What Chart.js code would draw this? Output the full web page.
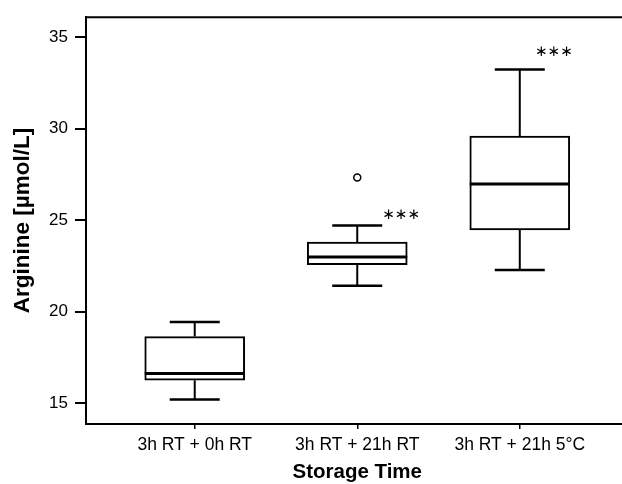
<!DOCTYPE html>
<html>
<head>
<meta charset="utf-8">
<script src="https://cdn.jsdelivr.net/npm/chart.js@4"></script>
<style>
  html, body { margin: 0; padding: 0; background: #fff; overflow: hidden; }
  #wrap { width: 634px; height: 484px; }
</style>
</head>
<body>
<div id="wrap"><canvas id="chartCanvas"></canvas></div>
<script>
const categories = ['3h RT + 0h RT', '3h RT + 21h RT', '3h RT + 21h 5°C'];
const whiskerLow = [15.2, 21.42, 22.28];
const q1 = [16.25, 22.57, 24.47];
const median = [16.62, 22.99, 26.98];
const q3 = [18.64, 23.81, 29.6];
const whiskerHigh = [19.44, 24.71, 33.24];
const outliers = [[], [27.33], []];
const starText = ['', '***', '***'];
const starX = [null, 1.27, 2.21];
const starY = [null, 25.3, 34.2];
const yTicks = [15, 20, 25, 30, 35];

// whiskers, caps, medians, stars and the top frame line
const boxPlugin = {
  id: 'boxExtras',
  afterDatasetsDraw(chart) {
    const ctx = chart.ctx;
    const xs = chart.scales.x;
    const ys = chart.scales.y;
    const meta = chart.getDatasetMeta(0);
    const area = chart.chartArea;
    ctx.save();
    ctx.strokeStyle = '#000';

    categories.forEach((c, i) => {
      const x = xs.getPixelForValue(i);
      const w = meta.data[i].width;
      const cap = w / 4;

      ctx.lineWidth = 2;
      ctx.beginPath();
      ctx.moveTo(x, ys.getPixelForValue(q3[i]));
      ctx.lineTo(x, ys.getPixelForValue(whiskerHigh[i]));
      ctx.moveTo(x, ys.getPixelForValue(q1[i]));
      ctx.lineTo(x, ys.getPixelForValue(whiskerLow[i]));
      ctx.stroke();

      ctx.lineWidth = 2.5;
      ctx.beginPath();
      ctx.moveTo(x - cap, ys.getPixelForValue(whiskerHigh[i]));
      ctx.lineTo(x + cap, ys.getPixelForValue(whiskerHigh[i]));
      ctx.moveTo(x - cap, ys.getPixelForValue(whiskerLow[i]));
      ctx.lineTo(x + cap, ys.getPixelForValue(whiskerLow[i]));
      ctx.stroke();

      ctx.lineWidth = 3;
      ctx.beginPath();
      ctx.moveTo(x - w / 2, ys.getPixelForValue(median[i]));
      ctx.lineTo(x + w / 2, ys.getPixelForValue(median[i]));
      ctx.stroke();

      if (starText[i]) {
        ctx.fillStyle = '#000';
        ctx.font = '15px "DejaVu Sans"';
        ctx.textAlign = 'center';
        ctx.textBaseline = 'middle';
        ctx.fillText(starText[i].replace(/\*/g, '\u2217'), xs.getPixelForValue(starX[i]), ys.getPixelForValue(starY[i]));
      }
    });

    // top frame line
    ctx.lineWidth = 2;
    ctx.beginPath();
    ctx.moveTo(area.left, area.top);
    ctx.lineTo(area.right, area.top);
    ctx.stroke();
    ctx.restore();
  }
};

function initChart() {
  Chart.defaults.font.family = '"Liberation Sans", Arial, sans-serif';
  Chart.defaults.color = '#000';

  const ctx = document.getElementById('chartCanvas').getContext('2d');
  new Chart(ctx, {
    data: {
      datasets: [{
        type: 'bar',
        data: categories.map((c, i) => ({ x: i, y: [q1[i], q3[i]] })),
        backgroundColor: '#fff',
        borderColor: '#000',
        borderWidth: 2,
        borderSkipped: false,
        barThickness: 100
      }, {
        type: 'scatter',
        data: outliers.flatMap((vals, i) => vals.map(v => ({ x: i, y: v }))),
        pointRadius: 3.5,
        borderWidth: 1.5,
        borderColor: '#000',
        backgroundColor: '#fff'
      }]
    },
    options: {
      responsive: true,
      maintainAspectRatio: false,
      animation: false,
      layout: { padding: { top: 14, left: 0, right: 0, bottom: 0 } },
      plugins: {
        legend: { display: false },
        tooltip: { enabled: false }
      },
      scales: {
        x: {
          type: 'linear',
          offset: false,
          min: -0.669,
          max: 2.669,
          afterBuildTicks: scale => { scale.ticks = categories.map((c, i) => ({ value: i })); },
          afterFit: scale => { scale.height = 60; },
          ticks: {
            callback: value => categories[value],
            autoSkip: false,
            maxRotation: 0,
            padding: 6,
            font: { size: 17.5 }
          },
          grid: { offset: false, drawOnChartArea: false, tickLength: 5, lineWidth: 1.5, color: '#000' },
          border: { display: true, width: 2, color: '#000' },
          title: {
            display: true,
            text: 'Storage Time',
            font: { size: 20.5, weight: 'bold', lineHeight: 1 },
            padding: { top: 0, bottom: 1 }
          }
        },
        y: {
          min: 13.86,
          max: 36.1,
          afterBuildTicks: scale => { scale.ticks = yTicks.map(v => ({ value: v })); },
          afterFit: scale => { scale.width = 86; },
          ticks: { padding: 7, font: { size: 17 } },
          grid: { drawOnChartArea: false, tickLength: 11, lineWidth: 2, color: '#000' },
          border: { display: true, width: 2, color: '#000' },
          title: {
            display: true,
            text: 'Arginine [µmol/L]',
            font: { size: 22.5, weight: 'bold', lineHeight: 1 },
            padding: { top: 12, bottom: 0 }
          }
        }
      }
    },
    plugins: [boxPlugin]
  });
}

window.addEventListener('load', initChart);
</script>
</body>
</html>
